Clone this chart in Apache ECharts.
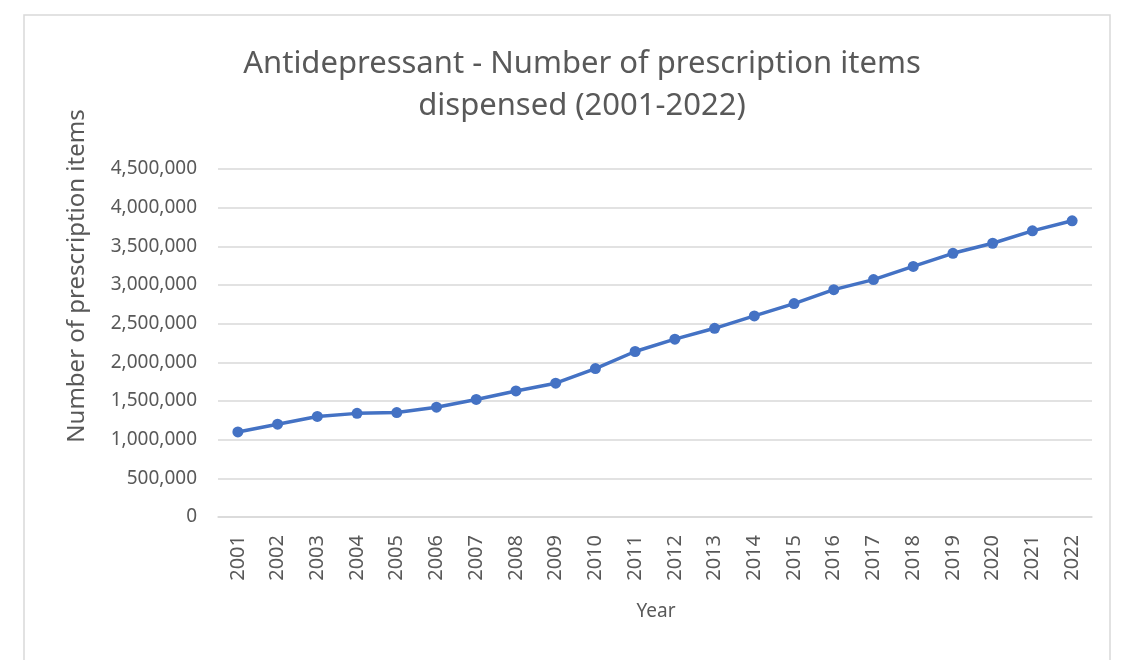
<!DOCTYPE html>
<html>
<head>
<meta charset="utf-8">
<script src="https://cdn.jsdelivr.net/npm/echarts@6/dist/echarts.min.js"></script>
<style>
  html, body { margin: 0; padding: 0; background: #fff; }
  #chart { width: 1123px; height: 660px; }
</style>
</head>
<body>
<div id="chart"></div>
<script>
const years = ['2001', '2002', '2003', '2004', '2005', '2006', '2007', '2008', '2009', '2010', '2011',
  '2012', '2013', '2014', '2015', '2016', '2017', '2018', '2019', '2020', '2021', '2022'];
const items = [1100000, 1200000, 1300000, 1340000, 1350000, 1420000, 1520000, 1630000, 1730000, 1920000, 2140000,
  2300000, 2440000, 2600000, 2760000, 2940000, 3070000, 3240000, 3410000, 3540000, 3700000, 3830000];
const titleLines = ['Antidepressant - Number of prescription items', 'dispensed (2001-2022)'];
const yTitle = 'Number of prescription items';
const xTitle = 'Year';

const font = '"Noto Sans", "Open Sans", sans-serif';
const textColor = '#595959';

const chart = echarts.init(document.getElementById('chart'));
chart.setOption({
  animation: false,
  backgroundColor: '#fff',
  textStyle: { fontFamily: font },
  title: {
    text: titleLines.join('\n'),
    left: 577,
    top: 38,
    textAlign: 'center',
    textStyle: { fontSize: 31, fontWeight: 'normal', color: textColor, lineHeight: 42, fontFamily: font }
  },
  graphic: [
    {
      type: 'rect',
      shape: { x: 24, y: 15, width: 1086, height: 660 },
      style: { fill: 'none', stroke: '#d9d9d9', lineWidth: 1.5 },
      silent: true
    },
    {
      type: 'text',
      x: 77,
      y: 276,
      rotation: Math.PI / 2,
      style: {
        text: yTitle,
        fontSize: 24,
        fontFamily: font,
        fill: textColor,
        align: 'center',
        verticalAlign: 'middle'
      }
    },
    {
      type: 'text',
      x: 656,
      y: 612,
      style: {
        text: xTitle,
        fontSize: 19,
        fontFamily: font,
        fill: textColor,
        align: 'center',
        verticalAlign: 'middle'
      }
    }
  ],
  grid: { left: 218, right: 31, top: 169, bottom: 143 },
  xAxis: {
    type: 'category',
    data: years,
    boundaryGap: true,
    axisLine: { lineStyle: { color: '#d9d9d9', width: 1.5 } },
    axisTick: { show: false },
    axisLabel: { rotate: 90, color: textColor, fontSize: 20, margin: 18, interval: 0 }
  },
  yAxis: {
    type: 'value',
    min: 0,
    max: 4500000,
    interval: 500000,
    axisLine: { show: false },
    axisTick: { show: false },
    splitLine: { lineStyle: { color: '#d9d9d9', width: 1.5 } },
    axisLabel: {
      color: textColor,
      fontSize: 19,
      margin: 21,
      formatter: v => v.toLocaleString('en-US')
    }
  },
  series: [{
    type: 'line',
    data: items,
    symbol: 'circle',
    symbolSize: 11,
    lineStyle: { color: '#4472C4', width: 3.5 },
    itemStyle: { color: '#4472C4' }
  }]
});
</script>
</body>
</html>
